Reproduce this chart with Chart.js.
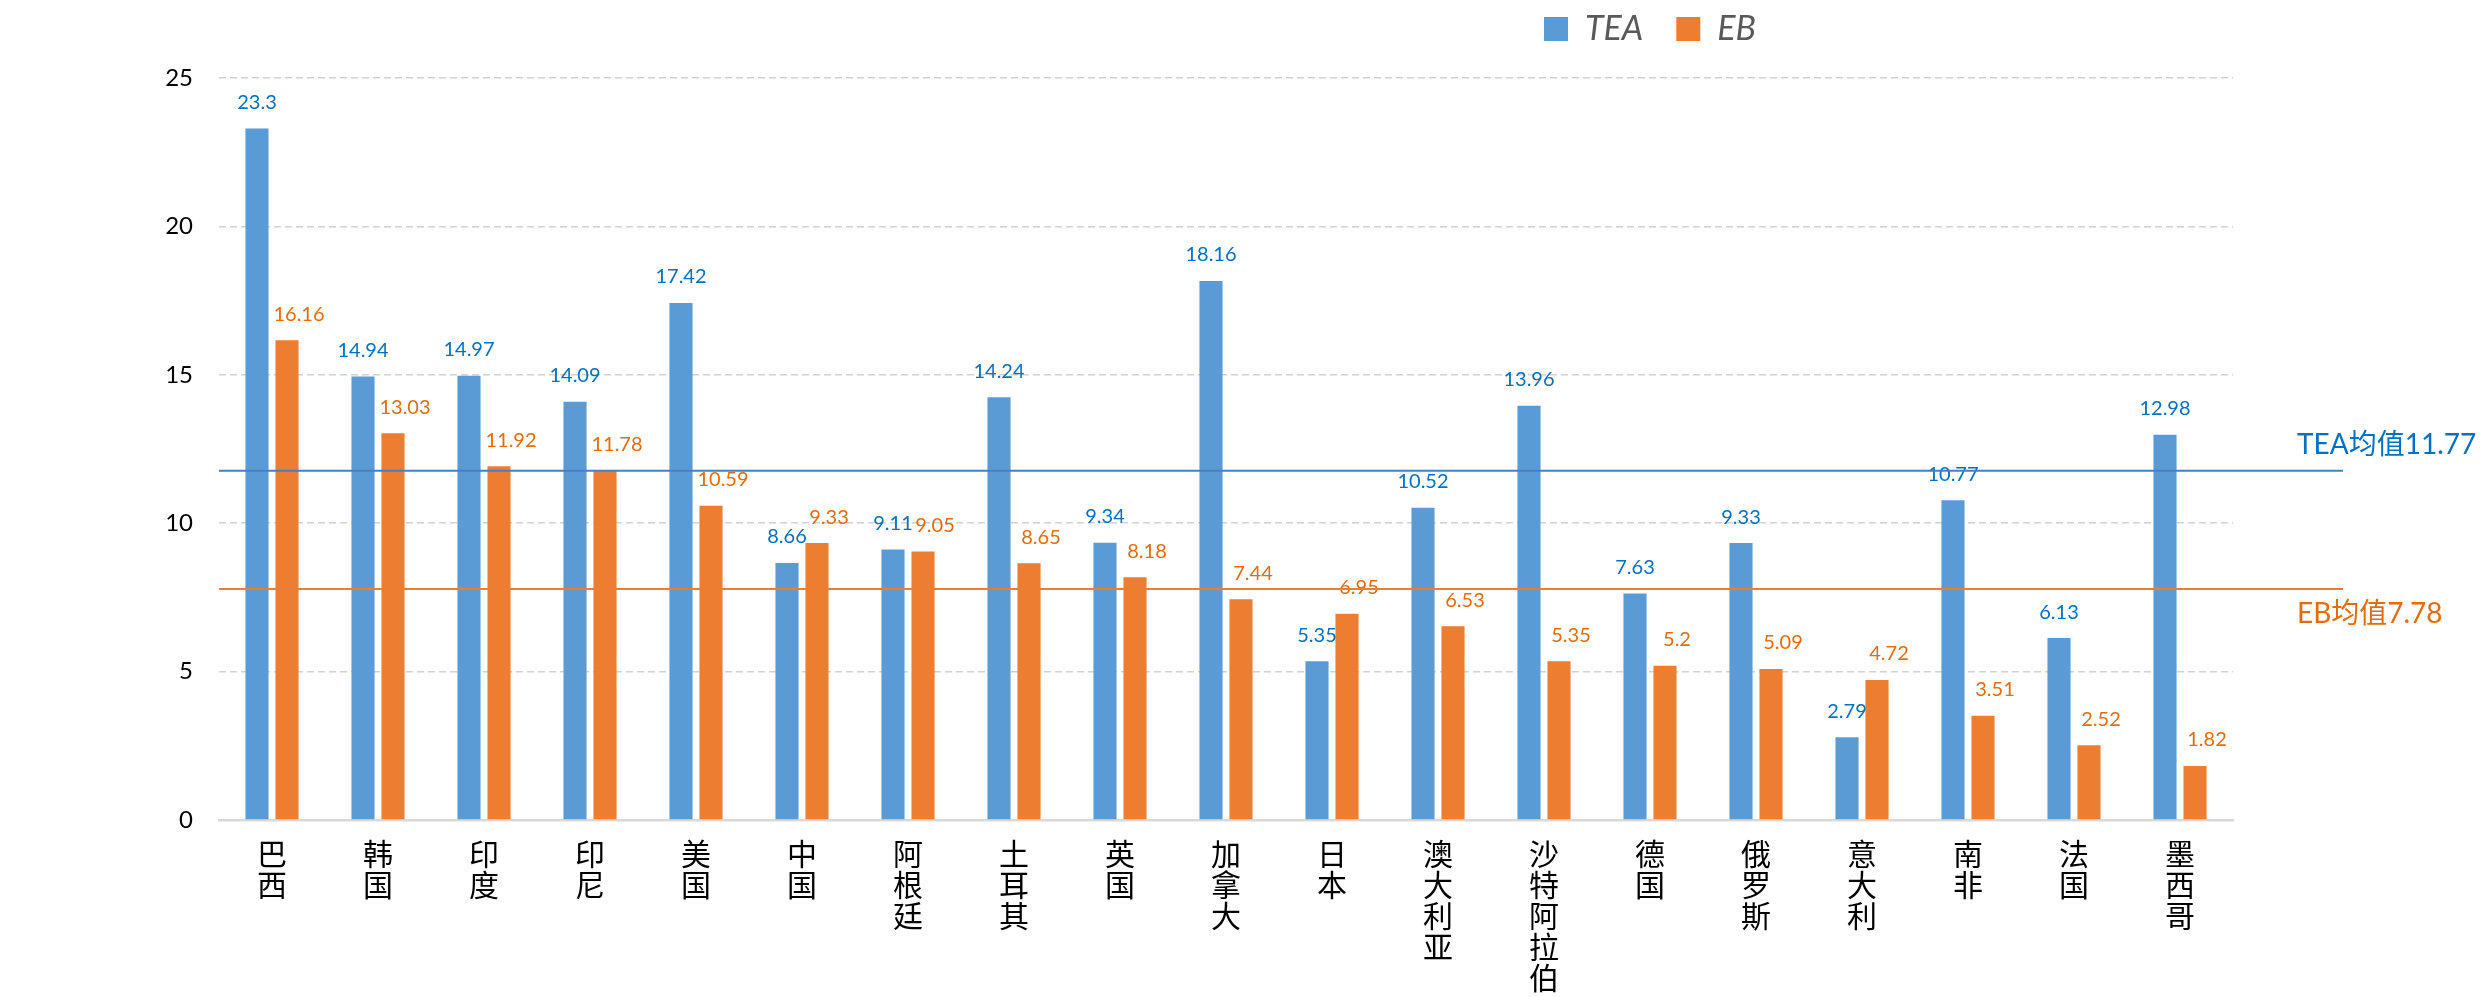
<!DOCTYPE html>
<html>
<head>
<meta charset="utf-8">
<script src="https://cdn.jsdelivr.net/npm/chart.js@4.4.1/dist/chart.umd.min.js"></script>
<style>
  html, body { margin: 0; padding: 0; background: #fff; }
  #wrap { width: 2486px; height: 997px; position: relative; }
</style>
</head>
<body>
<div id="wrap"><canvas id="chart"></canvas></div>
<script>
const countries = ["巴西", "韩国", "印度", "印尼", "美国", "中国", "阿根廷", "土耳其", "英国", "加拿大",
  "日本", "澳大利亚", "沙特阿拉伯", "德国", "俄罗斯", "意大利", "南非", "法国", "墨西哥"];
const teaValues = [23.3, 14.94, 14.97, 14.09, 17.42, 8.66, 9.11, 14.24, 9.34, 18.16,
  5.35, 10.52, 13.96, 7.63, 9.33, 2.79, 10.77, 6.13, 12.98];
const ebValues = [16.16, 13.03, 11.92, 11.78, 10.59, 9.33, 9.05, 8.65, 8.18, 7.44,
  6.95, 6.53, 5.35, 5.2, 5.09, 4.72, 3.51, 2.52, 1.82];
const teaMean = 11.77;
const ebMean = 7.78;
const yMax = 25;
const yStep = 5;

const blueBar = "#5B9BD5";
const orangeBar = "#ED7D31";
const blueText = "#0070C0";
const orangeText = "#E46C0A";

// labels are written top to bottom, one character per line
const verticalLabels = countries.map(c => c.split(""));

// value labels above each bar (EB ones nudged right like in the original)
const valueLabels = {
  id: "valueLabels",
  afterDatasetsDraw(chart) {
    const ctx = chart.ctx;
    ctx.save();
    ctx.font = "20px Lato";
    ctx.textAlign = "center";
    ctx.textBaseline = "middle";
    chart.data.datasets.forEach((ds, i) => {
      ctx.fillStyle = i === 0 ? blueText : orangeText;
      const dx = i === 0 ? 0 : 12;
      chart.getDatasetMeta(i).data.forEach((bar, j) => {
        ctx.fillText(String(ds.data[j]), bar.x + dx, bar.y - 26);
      });
    });
    ctx.restore();
  }
};

// the two average lines, they run a bit past the plot on the right
const meanLines = {
  id: "meanLines",
  afterDatasetsDraw(chart) {
    const { ctx, chartArea, scales } = chart;
    const lines = [
      { v: teaMean, line: "#4A7EC4", text: blueText, label: "TEA均值" + teaMean, dy: -26 },
      { v: ebMean, line: "#ED7D31", text: orangeText, label: "EB均值" + ebMean, dy: 25 }
    ];
    ctx.save();
    lines.forEach(l => {
      const y = scales.y.getPixelForValue(l.v);
      ctx.strokeStyle = l.line;
      ctx.lineWidth = 2;
      ctx.beginPath();
      ctx.moveTo(chartArea.left, y);
      ctx.lineTo(chartArea.right + 110, y);
      ctx.stroke();
      ctx.fillStyle = l.text;
      ctx.font = "28px Lato, 'Noto Sans CJK SC'";
      ctx.textAlign = "left";
      ctx.textBaseline = "middle";
      ctx.fillText(l.label, chartArea.right + 64, y + l.dy);
    });
    ctx.restore();
  }
};

// legend sits right of centre in the original
const legendPlace = {
  id: "legendPlace",
  beforeLayout(chart) {
    const lg = chart.legend;
    if (lg && !lg._patched) {
      const fit = lg.fit;
      lg.fit = function () { fit.call(this); this.height = 78; };
      lg._patched = true;
    }
  },
  afterLayout(chart) {
    const lg = chart.legend;
    const w = lg.right - lg.left;
    lg.left = 1511;
    lg.right = lg.left + w;
    lg.top -= 21;
    lg.bottom -= 21;
  }
};

new Chart(document.getElementById("chart"), {
  type: "bar",
  data: {
    labels: verticalLabels,
    datasets: [
      { label: "TEA", data: teaValues, backgroundColor: blueBar,
        categoryPercentage: 0.566, barPercentage: 0.77 },
      { label: "EB", data: ebValues, backgroundColor: orangeBar,
        categoryPercentage: 0.566, barPercentage: 0.77 }
    ]
  },
  options: {
    responsive: true,
    maintainAspectRatio: false,
    animation: false,
    layout: { padding: { left: 0, right: 253, top: 0, bottom: 0 } },
    plugins: {
      tooltip: { enabled: false },
      legend: {
        position: "top",
        align: "start",
        labels: {
          boxWidth: 24,
          boxHeight: 24,
          padding: 33,
          color: "#595959",
          font: { family: "Lato", size: 34, style: "italic" }
        }
      }
    },
    scales: {
      x: {
        grid: { display: false, drawTicks: false },
        border: { color: "#d9d9d9", width: 2.5 },
        afterFit(scale) { scale.height = 177; },
        ticks: {
          color: "#000",
          padding: 18,
          maxRotation: 0,
          autoSkip: false,
          font: { family: "'Noto Sans CJK SC'", size: 30, lineHeight: "31px" }
        }
      },
      y: {
        min: 0,
        max: yMax,
        afterFit(scale) { scale.width = 219; },
        grid: { color: "#d2d2d2", lineWidth: 1.5, drawTicks: false },
        border: { display: false, dash: [7, 4] },
        ticks: {
          stepSize: yStep,
          color: "#000",
          padding: 26,
          font: { family: "Lato", size: 24 }
        }
      }
    }
  },
  plugins: [legendPlace, valueLabels, meanLines]
});
</script>
</body>
</html>
